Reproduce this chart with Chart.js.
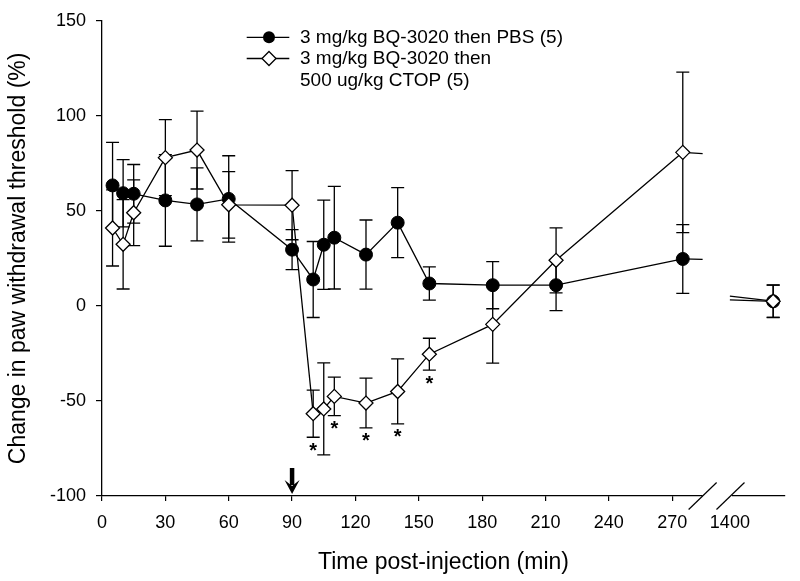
<!DOCTYPE html>
<html><head><meta charset="utf-8">
<script src="https://cdn.jsdelivr.net/npm/chart.js@4.4.0/dist/chart.umd.min.js"></script>
<style>html,body{margin:0;padding:0;background:#fff}#wrap{width:800px;height:581px}</style>
</head><body><div id="wrap"><canvas id="c" width="800" height="581"></canvas></div>
<script>
// ---- data ----
const times = [5,10,15,30,45,60,90,100,105,110,125,140,155,185,215,275,1440];
const pbsMean = [63.4,59.3,59,55.5,53.4,56.3,29.6,13.9,32.2,35.9,27,43.8,11.8,10.9,10.9,24.7,2.4];
const pbsErr  = [22.6,17.7,15.4,24.1,19.2,22.7,10.5,20,23.5,27,18.2,18.4,8.7,12.4,13.4,18.1,8.5];
const ctopMean = [41,32.4,49,78,82,53.2,53,-56.7,-54.2,-47.6,-51.1,-45,-25.4,-9.7,24,80.8,2.5];
const ctopErr  = [20,23.5,17.3,20,20.5,17.5,18.2,12.4,24.2,10.1,13.1,17.1,8.4,20.4,17.1,42.2,8.5];
const seriesLabels = ['3 mg/kg BQ-3020 then PBS (5)', ['3 mg/kg BQ-3020 then', '500 ug/kg CTOP (5)']];
const xTickLabels = [0,30,60,90,120,150,180,210,240,270,1400];
const yTickLabels = [-100,-50,0,50,100,150];
const starTimes = [100,110,125,140,155];
const arrowTime = 90;
const yTitle = 'Change in paw withdrawal threshold (%)';
const xTitle = 'Time post-injection (min)';

// ---- broken time axis (minutes -> axis units) ----
const BREAK_LO = 284.4, BREAK_T = 1400, BREAK_U = 297.3, POST_K = 0.5125, U_MAX = 323.4;
function toU(t){ return t < 1000 ? t : BREAK_U + (t - BREAK_T) * POST_K; }

const FONT = '"Liberation Sans", Arial, Helvetica, sans-serif';
const pts = (m) => times.map((t,i) => ({x: toU(t), y: m[i]}));

const errorBars = {
  id: 'errorBars',
  beforeDatasetsDraw(chart){
    const {ctx, scales:{x, y}} = chart;
    ctx.save();
    ctx.strokeStyle = '#000'; ctx.lineWidth = 1.3;
    [[pbsMean,pbsErr],[ctopMean,ctopErr]].forEach(([m,e]) => {
      times.forEach((t,i) => {
        const px = x.getPixelForValue(toU(t));
        const yt = y.getPixelForValue(m[i]+e[i]);
        const yb = y.getPixelForValue(m[i]-e[i]);
        ctx.beginPath();
        ctx.moveTo(px, yt); ctx.lineTo(px, yb);
        ctx.moveTo(px-6.5, yt); ctx.lineTo(px+6.5, yt);
        ctx.moveTo(px-6.5, yb); ctx.lineTo(px+6.5, yb);
        ctx.stroke();
      });
    });
    // line stubs across the axis break
    const n = times.length;
    [pbsMean, ctopMean].forEach(m => {
      const t0 = times[n-2], t1 = times[n-1];
      const s = (m[n-1]-m[n-2])/(t1-t0);
      ctx.beginPath();
      ctx.moveTo(x.getPixelForValue(toU(t0)), y.getPixelForValue(m[n-2]));
      ctx.lineTo(x.getPixelForValue(BREAK_LO), y.getPixelForValue(m[n-2]+s*(BREAK_LO-t0)));
      ctx.moveTo(x.getPixelForValue(toU(BREAK_T)), y.getPixelForValue(m[n-2]+s*(BREAK_T-t0)));
      ctx.lineTo(x.getPixelForValue(toU(t1)), y.getPixelForValue(m[n-1]));
      ctx.stroke();
    });
    ctx.restore();
  }
};

const extras = {
  id: 'extras',
  afterDraw(chart){
    const {ctx, scales:{x, y}} = chart;
    ctx.save();
    // stars
    ctx.fillStyle = '#000';
    ctx.font = 'bold 20px ' + FONT;
    ctx.textAlign = 'center'; ctx.textBaseline = 'top';
    starTimes.forEach(t => {
      const i = times.indexOf(t);
      const px = x.getPixelForValue(toU(t));
      const yb = y.getPixelForValue(ctopMean[i]-ctopErr[i]);
      ctx.fillText('*', px, yb + 4);
    });
    // arrow
    const ax = x.getPixelForValue(arrowTime);
    const ab = y.getPixelForValue(-100) - 2;
    ctx.lineWidth = 4.5; ctx.strokeStyle = '#000';
    ctx.beginPath(); ctx.moveTo(ax, ab - 26); ctx.lineTo(ax, ab - 9); ctx.stroke();
    ctx.beginPath(); ctx.moveTo(ax - 7.5, ab - 14); ctx.lineTo(ax, ab); ctx.lineTo(ax + 7.5, ab - 14);
    ctx.lineTo(ax, ab - 8); ctx.closePath(); ctx.fill();
    // axis break
    const gl = x.getPixelForValue(BREAK_LO), gr = x.getPixelForValue(BREAK_U + 1);
    const ay = y.getPixelForValue(-100);
    ctx.fillStyle = '#fff';
    ctx.fillRect(gl, ay - 3, gr - gl, 6);
    ctx.strokeStyle = '#000'; ctx.lineWidth = 1.2;
    [gl, gr - 1.5].forEach(cx => {
      ctx.beginPath(); ctx.moveTo(cx - 14, ay + 13.5); ctx.lineTo(cx + 14, ay - 13.5); ctx.stroke();
    });
    // legend
    const lx0 = 246.7, lx1 = 289.3, mx = 269, tx = 300;
    const rows = [37.3, 58.5, 80.5];
    ctx.lineWidth = 1.3; ctx.strokeStyle = '#000';
    [rows[0], rows[1]].forEach((ry, k) => {
      ctx.beginPath(); ctx.moveTo(lx0, ry); ctx.lineTo(lx1, ry); ctx.stroke();
      ctx.beginPath();
      if (k === 0) { ctx.arc(mx, ry, 6, 0, Math.PI*2); ctx.fillStyle = '#000'; ctx.fill(); }
      else {
        ctx.moveTo(mx, ry-7); ctx.lineTo(mx+7, ry); ctx.lineTo(mx, ry+7); ctx.lineTo(mx-7, ry); ctx.closePath();
        ctx.fillStyle = '#fff'; ctx.fill(); ctx.stroke();
      }
    });
    ctx.fillStyle = '#000';
    ctx.font = '19px ' + FONT;
    ctx.textAlign = 'left'; ctx.textBaseline = 'middle';
    ctx.fillText(seriesLabels[0], tx, rows[0]);
    ctx.fillText(seriesLabels[1][0], tx, rows[1]);
    ctx.fillText(seriesLabels[1][1], tx, rows[2]);
    ctx.restore();
  }
};

new Chart(document.getElementById('c'), {
  type: 'line',
  data: {
    datasets: [
      {
        label: seriesLabels[0], data: pts(pbsMean), order: 1,
        borderColor: '#000', borderWidth: 1.3, tension: 0,
        pointStyle: 'circle', pointRadius: 6.5, pointBackgroundColor: '#000', pointBorderColor: '#000', pointBorderWidth: 1,
        segment: { borderColor: c => c.p1DataIndex === times.length-1 ? 'rgba(0,0,0,0)' : undefined }
      },
      {
        label: seriesLabels[1].join(' '), data: pts(ctopMean), order: 0,
        borderColor: '#000', borderWidth: 1.3, tension: 0,
        pointStyle: 'rectRot', pointRadius: 7, pointBackgroundColor: '#fff', pointBorderColor: '#000', pointBorderWidth: 1.3,
        segment: { borderColor: c => c.p1DataIndex === times.length-1 ? 'rgba(0,0,0,0)' : undefined }
      }
    ]
  },
  options: {
    responsive: false, animation: false, devicePixelRatio: 1,
    layout: { padding: { top: 17, right: 15, left: 0, bottom: 0 } },
    plugins: { legend: { display: false }, tooltip: { enabled: false } },
    scales: {
      x: {
        type: 'linear', min: 0, max: U_MAX,
        afterBuildTicks: s => { s.ticks = xTickLabels.map(v => ({ value: toU(v) })); },
        afterFit: s => { s.height = 85; },
        ticks: {
          color: '#000', font: { family: FONT, size: 18 }, padding: 11, maxRotation: 0, autoSkip: false,
          callback: (v, i) => String(xTickLabels[i])
        },
        grid: { display: true, drawOnChartArea: false, drawTicks: true, tickLength: 5, lineWidth: 1.2,
          tickColor: c => (c.tick && c.tick.value > 280) ? 'rgba(0,0,0,0)' : '#000' },
        border: { display: true, color: '#000', width: 1.3 },
        title: { display: true, text: xTitle, color: '#000', font: { family: FONT, size: 23 }, padding: { top: 0, bottom: 5 } }
      },
      y: {
        type: 'linear', min: yTickLabels[0], max: yTickLabels[yTickLabels.length-1],
        afterBuildTicks: s => { s.ticks = yTickLabels.map(v => ({ value: v })); },
        afterFit: s => { s.width = 102; },
        ticks: { color: '#000', font: { family: FONT, size: 18 }, padding: 10 },
        grid: { display: true, drawOnChartArea: false, drawTicks: true, tickLength: 6, lineWidth: 1.2, tickColor: '#000' },
        border: { display: true, color: '#000', width: 1.3 },
        title: { display: true, text: yTitle, color: '#000', font: { family: FONT, size: 23 }, padding: { top: 5, bottom: 0 } }
      }
    }
  },
  plugins: [errorBars, extras]
});
</script></body></html>
